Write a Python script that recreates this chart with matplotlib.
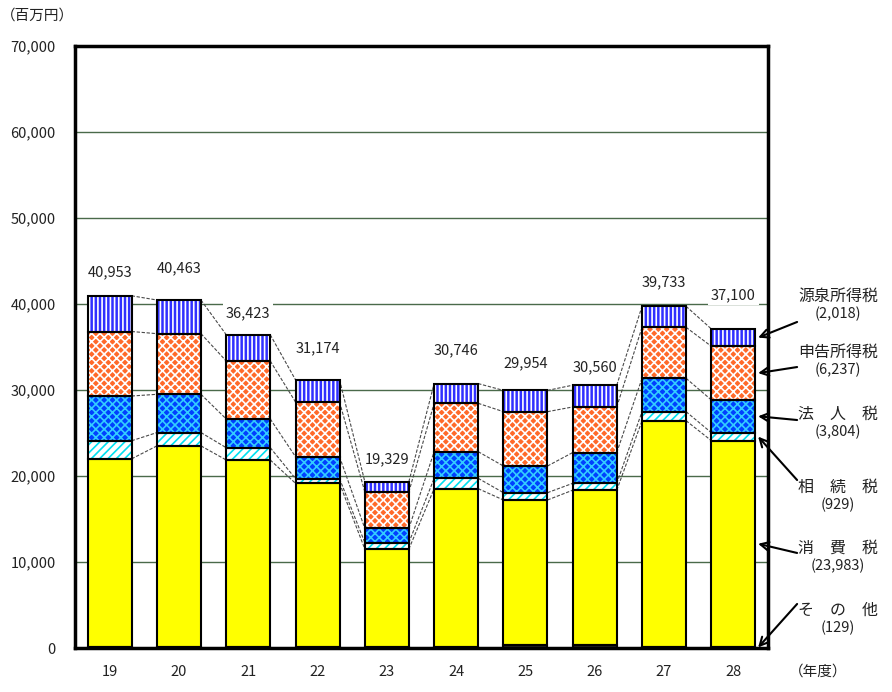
import matplotlib
matplotlib.use('Agg')
import matplotlib.pyplot as plt
import matplotlib.transforms as mtransforms
import numpy as np

plt.rcParams['font.family'] = ['Noto Sans CJK JP', 'DejaVu Sans']
plt.rcParams['hatch.linewidth'] = 1.2

# 年度
years = ['19', '20', '21', '22', '23', '24', '25', '26', '27', '28']

# 税目別 (百万円)
other = [100, 100, 100, 100, 100, 100, 300, 300, 100, 129]
consumption = [21900, 23400, 21760, 19050, 11400, 18430, 16910, 18050, 26330, 23983]
inheritance = [2100, 1550, 1430, 540, 750, 1200, 850, 800, 1050, 929]
corporate = [5200, 4450, 3340, 2550, 1650, 3100, 3100, 3580, 3880, 3804]
self_assessed = [7500, 7050, 6740, 6360, 4250, 5620, 6320, 5300, 5930, 6237]
withholding = [4153, 3913, 3053, 2574, 1179, 2296, 2474, 2530, 2443, 2018]
totals = [40953, 40463, 36423, 31174, 19329, 30746, 29954, 30560, 39733, 37100]

# 下から積み上げる順: (名前, 値, 地色, ハッチ, ハッチ色)
segments = [
    ('そ　の　他', other, '#202020', None, None),
    ('消　費　税', consumption, '#FFFF00', None, None),
    ('相　続　税', inheritance, 'white', '////', '#00E0F0'),
    ('法　人　税', corporate, '#0040FF', 'xxxx', '#33CCFF'),
    ('申告所得税', self_assessed, '#FF6A2A', 'xxxx', 'white'),
    ('源泉所得税', withholding, '#3030FF', '||||', 'white'),
]

fig = plt.figure(figsize=(8.92, 6.92), dpi=100)
ax = fig.add_axes([75 / 892, 44 / 692, 693 / 892, 602 / 692])

x = np.arange(len(years))
width = 0.635
bottom = np.zeros(len(years))
levels = []
for name, vals, face, hatch, hcol in segments:
    vals = np.array(vals, dtype=float)
    ax.bar(x, vals, width, bottom=bottom, color=face, hatch=hatch,
           edgecolor=hcol if hatch else face, linewidth=0, zorder=3)
    ax.bar(x, vals, width, bottom=bottom, fill=False, edgecolor='black',
           linewidth=1.5, zorder=4)
    bottom = bottom + vals
    levels.append(bottom.copy())

# 棒と棒をつなぐ点線
for lv in levels[1:]:
    for i in range(len(years) - 1):
        ax.plot([x[i] + width / 2, x[i + 1] - width / 2], [lv[i], lv[i + 1]],
                color='#4a4a4a', lw=0.8, ls=(0, (3, 1.5)), zorder=2)

# 合計ラベル
label_offset = [2770, 3730, 2530, 3700, 2650, 3900, 3190, 2100, 2830, 3950]
for i, t in enumerate(totals):
    ax.text(x[i], t + label_offset[i], f'{t:,}', ha='center', va='center',
            fontsize=10.5, color='#222222', zorder=1,
            bbox=dict(facecolor='white', edgecolor='none', pad=2))

ax.set_xlim(-0.5, len(years) - 0.5)
ax.set_ylim(0, 70000)
ax.set_yticks(np.arange(0, 70001, 10000))
ax.set_yticklabels([f'{v:,}' for v in range(0, 70001, 10000)], fontsize=10.5, color='#222222')
ax.set_xticks(x)
ax.set_xticklabels(years, fontsize=10.5, color='#222222')
ax.tick_params(axis='both', length=0)
ax.tick_params(axis='y', pad=14)
ax.tick_params(axis='x', pad=12)
ax.yaxis.grid(True, color='#4A6A4A', lw=1, zorder=0)
ax.set_axisbelow(True)
for sp in ax.spines.values():
    sp.set_linewidth(2.5)
    sp.set_color('black')

fig.text(37 / 892, 1 - 16 / 692, '（百万円）', ha='center', va='center', fontsize=10.5, color='#222222')
fig.text(818 / 892, 1 - 672 / 692, '（年度）', ha='center', va='center', fontsize=10.5, color='#222222')

# 右側の説明と矢印 (28年度)
trans = mtransforms.blended_transform_factory(ax.transAxes, ax.transData)
name_y = [4420, 11630, 18720, 27210, 34420, 40930]
tail_y = [5120, 11050, 19530, 26510, 32670, 37910]
last = len(years) - 1
base = 0.0
for k, (name, vals, face, hatch, hcol) in enumerate(segments):
    v = vals[last]
    mid = base + v / 2
    base += v
    ax.text(1.101, name_y[k], name, transform=trans, ha='center', va='center',
            fontsize=11.5, color='#222222')
    ax.text(1.101, name_y[k] - 2100, f'({v:,})', transform=trans, ha='center',
            va='center', fontsize=10.5, color='#222222')
    ax.annotate('', xy=(x[last] + width / 2 + 0.04, mid), xycoords='data',
                xytext=(1.042, tail_y[k]), textcoords=trans, annotation_clip=False,
                arrowprops=dict(arrowstyle='->', lw=1.5, color='black',
                                mutation_scale=15, shrinkA=0, shrinkB=0))

fig.savefig('out.png', dpi=100)
